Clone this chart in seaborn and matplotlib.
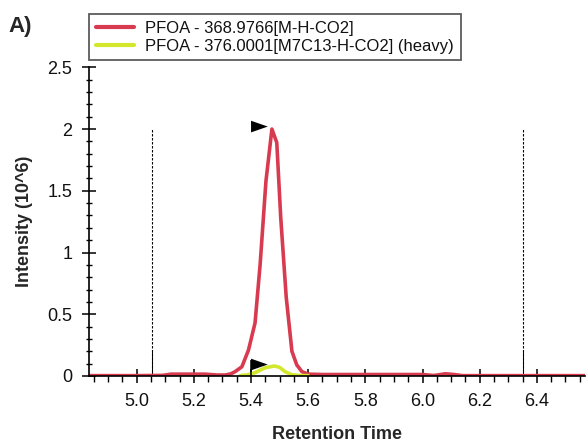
import numpy as np
import pandas as pd
import matplotlib
matplotlib.use("Agg")
import matplotlib.pyplot as plt
from matplotlib.ticker import MultipleLocator, FuncFormatter
import seaborn as sns

# ---- data ----
series_labels = ["PFOA - 368.9766[M-H-CO2]", "PFOA - 376.0001[M7C13-H-CO2] (heavy)"]
series_colors = ["#d83b50", "#d3e82c"]

rt_light = [4.834, 5.00, 5.09, 5.12, 5.24, 5.28, 5.31, 5.33, 5.344, 5.368, 5.391,
            5.414, 5.432, 5.452, 5.473, 5.490, 5.504, 5.523, 5.543, 5.560, 5.578,
            5.60, 5.65, 6.00, 6.04, 6.08, 6.11, 6.14, 6.57]
int_light = [0.003, 0.003, 0.005, 0.015, 0.015, 0.008, 0.008, 0.018, 0.035, 0.075, 0.21,
             0.43, 0.91, 1.575, 2.0, 1.89, 1.278, 0.64, 0.20, 0.09, 0.035,
             0.015, 0.012, 0.012, 0.004, 0.018, 0.012, 0.003, 0.003]

rt_heavy = [5.362, 5.39, 5.414, 5.449, 5.482, 5.50, 5.519, 5.543, 5.57, 5.60]
int_heavy = [0.003, 0.01, 0.027, 0.067, 0.081, 0.07, 0.035, 0.01, 0.004, 0.003]

flag_x = [5.40, 5.40]
flag_y = [2.02, 0.093]
pole_top = 0.13

boundary_x = [5.055, 6.353]
boundary_top = 2.0
boundary_solid_top = 0.21

x_ticks = [5.0, 5.2, 5.4, 5.6, 5.8, 6.0, 6.2, 6.4]
y_ticks = [0, 0.5, 1, 1.5, 2, 2.5]

df = pd.DataFrame({
    "rt": rt_light + rt_heavy,
    "intensity": int_light + int_heavy,
    "series": [series_labels[0]] * len(rt_light) + [series_labels[1]] * len(rt_heavy),
})

sns.set_style("ticks")
plt.rcParams["font.family"] = ["Liberation Sans", "DejaVu Sans"]

fig = plt.figure(figsize=(5.86, 4.43), dpi=100)
ax = fig.add_axes([89.3 / 586, 1 - 376 / 443, 1 - 89.3 / 586 - 0.001, (376 - 67.3) / 443])

sns.lineplot(data=df, x="rt", y="intensity", hue="series", hue_order=series_labels,
             palette=series_colors, linewidth=2.6, ax=ax, estimator=None, sort=False,
             legend=True)

# boundary lines
for bx in boundary_x:
    ax.vlines(bx, 0, boundary_top, colors="black", linewidth=0.8, linestyles=(0, (2.2, 1.4)), zorder=1)
    ax.vlines(bx, 0, boundary_solid_top, colors="black", linewidth=0.7, zorder=1)

# flags
flag_marker = [(0, 0.7), (2, 0), (0, -0.7)]
ax.vlines(flag_x[1], 0, pole_top, colors="black", linewidth=1.1, zorder=4)
sns.scatterplot(x=flag_x, y=flag_y, marker=flag_marker, s=24 ** 2, color="black",
                edgecolor="none", ax=ax, zorder=5, legend=False)

ax.set_xlim(4.834, 6.57)
ax.set_ylim(0, 2.5)
ax.set_xticks(x_ticks)
ax.set_yticks(y_ticks)
ax.xaxis.set_major_formatter(FuncFormatter(lambda v, p: f"{v:.1f}"))
ax.yaxis.set_major_formatter(FuncFormatter(lambda v, p: f"{v:g}"))
ax.xaxis.set_minor_locator(MultipleLocator(0.05))
ax.yaxis.set_minor_locator(MultipleLocator(0.1))

ax.tick_params(axis="both", which="major", direction="inout", length=9.5, width=1.1,
               labelsize=13, color="black", labelcolor="#111111")
ax.tick_params(axis="x", which="major", pad=7.5)
ax.tick_params(axis="y", which="major", pad=7.5)
ax.tick_params(axis="x", which="minor", direction="out", length=4, width=1.0, color="black")
ax.tick_params(axis="y", which="minor", direction="inout", length=5, width=1.0, color="black")

sns.despine(ax=ax)
for s in ["left", "bottom"]:
    ax.spines[s].set_linewidth(1.2)
    ax.spines[s].set_color("black")

ax.set_xlabel("Retention Time", fontsize=13, fontweight="bold", labelpad=11.5)
ax.set_ylabel("Intensity (10^6)", fontsize=13, fontweight="bold", labelpad=10.5)

handles, labels = ax.get_legend_handles_labels()
ax.get_legend().remove()
leg = fig.legend(handles, labels, loc="upper left", bbox_to_anchor=(89.3 / 586, 1 - 14 / 443),
                 bbox_transform=fig.transFigure, frameon=True, fancybox=False, shadow=False,
                 fontsize=12, handlelength=2.3, handletextpad=0.65, borderpad=0.4,
                 labelspacing=0.18, borderaxespad=0)
leg.get_frame().set_edgecolor("#333333")
leg.get_frame().set_linewidth(1.3)
for line in leg.get_lines():
    line.set_linewidth(3)
for t in leg.get_texts():
    t.set_color("#111111")

fig.text(8 / 586, 1 - 32 / 443, "A)", fontsize=16, fontweight="bold", ha="left", va="baseline")

fig.savefig("out.png", dpi=100)
